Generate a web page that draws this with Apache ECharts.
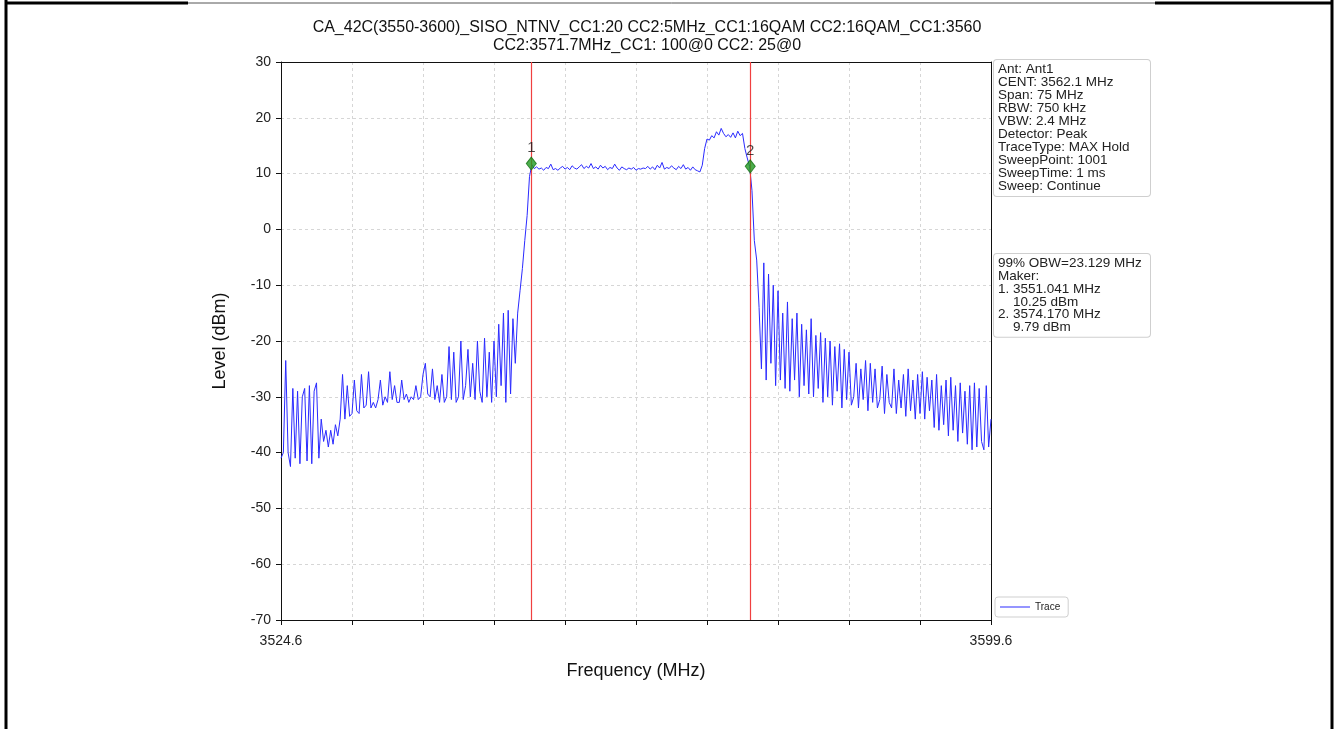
<!DOCTYPE html>
<html>
<head>
<meta charset="utf-8">
<script src="https://cdn.jsdelivr.net/npm/echarts@6/dist/echarts.min.js"></script>
<style>
  html, body { margin: 0; padding: 0; background: #fff; }
  #chart { width: 1338px; height: 729px; }
</style>
</head>
<body>
<div id="chart"></div>
<script>
// ---- Data ----
const titleLines = [
  'CA_42C(3550-3600)_SISO_NTNV_CC1:20 CC2:5MHz_CC1:16QAM CC2:16QAM_CC1:3560',
  'CC2:3571.7MHz_CC1: 100@0 CC2: 25@0'
];
const freqStart = 3524.6;   // MHz
const freqStop = 3599.6;    // MHz
const freqStep = 0.25;      // MHz between sampled sweep points
const xTickStep = 7.5;      // MHz
const yTicks = [-70, -60, -50, -40, -30, -20, -10, 0, 10, 20, 30];

const levels = [
  // 3524.6 - 3526.85
  -41, -40, -23.5, -40, -42.5, -28.5, -41, -29, -42, -30,
  // 3527.1 - 3529.35
  -28.5, -41.5, -28, -42, -29, -27.5, -41, -34, -38, -36,
  // 3529.6 - 3531.85
  -39, -36, -38.5, -35, -37, -34, -26, -34, -28, -33.5,
  // 3532.1 - 3534.35
  -33, -27, -32.5, -33, -26, -32, -31.5, -25.5, -32, -31,
  // 3534.6 - 3536.85
  -32, -30.5, -27, -31.5, -30, -31, -25.5, -30.5, -28, -31,
  // 3537.1 - 3539.35
  -31, -27, -30.5, -29.5, -31, -30, -30.5, -28, -30.5, -30,
  // 3539.6 - 3541.85
  -26, -24, -29.5, -30, -25, -30.5, -28, -31, -26, -31,
  // 3542.1 - 3544.35
  -30, -21, -30.5, -22, -31, -30, -20, -30.5, -28, -21.5,
  // 3544.6 - 3546.85
  -30, -24, -30.5, -20, -29, -31, -19.5, -30, -22, -31,
  // 3547.1 - 3549.35
  -20, -30, -17, -28, -15, -31, -14.5, -29.5, -16, -24,
  // 3549.6 - 3551.85
  -15, -11, -7, -2, 2.5, 9.5, 11.6, 10.9, 11.2, 10.8,
  // 3552.1 - 3554.35
  11.0, 10.6, 11.1, 10.9, 11.7, 10.7, 10.9, 10.6, 11.0, 11.3,
  // 3554.6 - 3556.85
  10.8, 11.1, 10.7, 11.4, 11.0, 10.8, 11.2, 11.6, 10.9, 11.3,
  // 3557.1 - 3559.35
  11.0, 11.8, 10.9, 11.2, 10.8, 11.5, 11.0, 11.3, 10.7, 11.1,
  // 3559.6 - 3561.85
  10.9, 11.7, 11.0, 10.6, 11.2, 10.9, 10.7, 11.0, 10.8, 11.1,
  // 3562.1 - 3564.35
  10.6, 10.9, 10.8, 11.0, 10.9, 11.3, 10.8, 11.2, 10.7, 11.5,
  // 3564.6 - 3566.85
  11.0, 12.0, 10.8, 11.1, 10.9, 11.4, 11.0, 10.7, 11.3, 10.9,
  // 3567.1 - 3569.35
  11.6, 10.8, 11.1, 10.6, 11.2, 10.7, 10.5, 10.3, 11.5, 14.5,
  // 3569.6 - 3571.85
  16.2, 16.0, 16.8, 16.4, 17.5, 16.9, 18.1, 17.2, 16.6, 17.0,
  // 3572.1 - 3574.35
  16.5, 17.3, 16.4, 17.6, 16.8, 17.2, 14.5, 12.8, 11.3, 7,
  // 3574.6 - 3576.85
  -2, -5.5, -14, -25, -6, -27, -8, -24, -10, -28,
  // 3577.1 - 3579.35
  -11, -27, -15, -28.5, -13, -29, -16, -27, -15, -30,
  // 3579.6 - 3581.85
  -17, -28, -18, -29.5, -16, -30, -19, -28.5, -18.5, -31,
  // 3582.1 - 3584.35
  -19.5, -30, -20, -31.5, -21, -29, -20.5, -32, -21.5, -30.5,
  // 3584.6 - 3586.85
  -22, -31.5, -30, -24, -32, -25, -30.5, -23.5, -32.5, -24,
  // 3587.1 - 3589.35
  -31, -25, -32, -30.5, -24.5, -33, -26, -31, -32, -25,
  // 3589.6 - 3591.85
  -33, -27, -32, -26, -33.5, -25, -32.5, -27, -34, -26,
  // 3592.1 - 3594.35
  -33, -25.5, -34, -26.5, -32.5, -27, -35.5, -26, -36, -28,
  // 3594.6 - 3596.85
  -35, -27, -37, -26.5, -36, -28, -38, -27.5, -36.5, -29,
  // 3597.1 - 3599.6
  -38.5, -28, -39.5, -27.5, -39, -28.5, -38, -39.5, -28, -39, -34
];

const markerNames = ['1', '2'];
const markerFreqs = [3551.041, 3574.170];
const markerLevels = [11.8, 11.3];

const infoLines = [
  'Ant: Ant1', 'CENT: 3562.1 MHz', 'Span: 75 MHz', 'RBW: 750 kHz', 'VBW: 2.4 MHz',
  'Detector: Peak', 'TraceType: MAX Hold', 'SweepPoint: 1001', 'SweepTime: 1 ms', 'Sweep: Continue'
];
const obwLines = [
  '99% OBW=23.129 MHz', 'Maker:', '1. 3551.041 MHz', '    10.25 dBm', '2. 3574.170 MHz', '    9.79 dBm'
];

// ---- Build ----
const trace = levels.map((v, i) => [+(freqStart + i * freqStep).toFixed(3), v]);
const markerData = markerFreqs.map((f, i) => ({ name: markerNames[i], value: [f, markerLevels[i]] }));

const FONT = '"Liberation Sans", Arial, sans-serif';
const chart = echarts.init(document.getElementById('chart'), null, { renderer: 'canvas' });

const gridLine = { show: true, lineStyle: { color: '#d6d6d6', type: [3, 3], width: 1 } };
const spineOnly = {
  axisLine: { show: true, onZero: false, lineStyle: { color: '#111', width: 1 } },
  axisTick: { show: false }, axisLabel: { show: false }, splitLine: { show: false }
};

const option = {
  animation: false,
  backgroundColor: '#fff',
  textStyle: { fontFamily: FONT },
  grid: { left: 281, top: 62, width: 710, height: 558 },
  legend: {
    data: ['Trace'],
    left: 995, top: 597,
    orient: 'vertical',
    itemWidth: 30, itemHeight: 8,
    padding: [5, 8, 5, 5],
    borderColor: '#cfcfcf', borderWidth: 1, borderRadius: 3,
    backgroundColor: '#fff',
    textStyle: { fontSize: 10, color: '#222', fontFamily: FONT },
    icon: 'path://M0,4 L30,4 L30,5 L0,5 Z'
  },
  xAxis: [{
    type: 'value',
    min: freqStart, max: freqStop, interval: xTickStep,
    name: 'Frequency (MHz)', nameLocation: 'middle', nameGap: 42,
    nameTextStyle: { fontSize: 18, color: '#111', fontFamily: FONT },
    axisLine: { show: true, onZero: false, lineStyle: { color: '#111', width: 1 } },
    axisTick: { show: true, inside: false, length: 5, lineStyle: { color: '#111' } },
    axisLabel: {
      show: true, fontSize: 14, color: '#222', margin: 14, fontFamily: FONT,
      showMinLabel: true, showMaxLabel: true,
      formatter: v => (Math.abs(v - freqStart) < 1e-6 || Math.abs(v - freqStop) < 1e-6) ? v.toFixed(1) : ''
    },
    splitLine: gridLine
  }, Object.assign({ type: 'value', position: 'top', min: freqStart, max: freqStop }, spineOnly)],
  yAxis: [{
    type: 'value',
    min: yTicks[0], max: yTicks[yTicks.length - 1], interval: 10,
    name: 'Level (dBm)', nameLocation: 'middle', nameGap: 52,
    nameTextStyle: { fontSize: 18, color: '#111', fontFamily: FONT },
    axisLine: { show: true, onZero: false, lineStyle: { color: '#111', width: 1 } },
    axisTick: { show: true, inside: false, length: 5, lineStyle: { color: '#111' } },
    axisLabel: { fontSize: 14, color: '#222', margin: 10, fontFamily: FONT },
    splitLine: gridLine
  }, Object.assign({ type: 'value', position: 'right', min: yTicks[0], max: yTicks[yTicks.length - 1] }, spineOnly)],
  series: [
    {
      name: 'Trace',
      type: 'line',
      data: trace,
      showSymbol: false,
      symbol: 'none',
      sampling: false,
      lineStyle: { color: '#2a2aff', width: 1 },
      itemStyle: { color: '#2a2aff' },
      z: 3,
      markLine: {
        silent: true,
        symbol: ['none', 'none'],
        label: { show: false },
        lineStyle: { color: '#f04040', width: 1.2, type: 'solid' },
        data: markerFreqs.map(f => ({ xAxis: f }))
      }
    },
    {
      name: 'Markers',
      type: 'scatter',
      data: markerData,
      symbol: 'diamond',
      symbolSize: [10, 13],
      itemStyle: { color: '#1f9a1f', borderColor: '#137013', borderWidth: 1 },
      label: {
        show: true, position: 'top', distance: 1,
        formatter: p => p.name,
        fontSize: 15, color: '#1a1a1a', fontFamily: FONT
      },
      z: 5
    }
  ],
  graphic: [
    {
      type: 'text', x: 647, y: 19,
      style: { text: titleLines.join('\n'), textAlign: 'center', font: '16px ' + FONT, fill: '#111', lineHeight: 18 }
    },
    {
      type: 'text', x: 994, y: 60,
      style: {
        text: infoLines.join('\n'), font: '13.5px ' + FONT, fill: '#222', lineHeight: 13,
        backgroundColor: '#fff', borderColor: '#cfcfcf', borderWidth: 1, borderRadius: 3,
        padding: [3, 3, 3, 4], width: 149
      }
    },
    {
      type: 'text', x: 994, y: 254,
      style: {
        text: obwLines.join('\n'), font: '13.5px ' + FONT, fill: '#222', lineHeight: 12.8,
        backgroundColor: '#fff', borderColor: '#cfcfcf', borderWidth: 1, borderRadius: 3,
        padding: [3, 3, 3, 4], width: 149
      }
    },
    // outer frame
    { type: 'line', shape: { x1: 6, y1: 0, x2: 6, y2: 729 }, style: { stroke: '#000', lineWidth: 3 } },
    { type: 'line', shape: { x1: 1332, y1: 0, x2: 1332, y2: 729 }, style: { stroke: '#000', lineWidth: 3 } },
    { type: 'line', shape: { x1: 5, y1: 3, x2: 188, y2: 3 }, style: { stroke: '#000', lineWidth: 3 } },
    { type: 'line', shape: { x1: 188, y1: 3, x2: 1155, y2: 3 }, style: { stroke: '#555', lineWidth: 1 } },
    { type: 'line', shape: { x1: 1155, y1: 3, x2: 1333, y2: 3 }, style: { stroke: '#000', lineWidth: 3 } }
  ]
};
chart.setOption(option);
</script>
</body>
</html>
